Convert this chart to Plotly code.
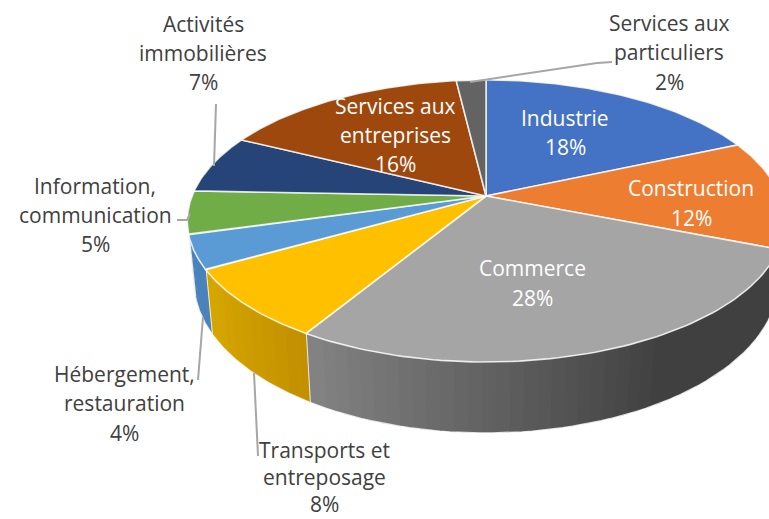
import numpy as np
import plotly.graph_objects as go

# ---- data ----
categories = ["Industrie", "Construction", "Commerce", "Transports et entreposage",
              "Hébergement, restauration", "Information, communication",
              "Activités immobilières", "Services aux entreprises", "Services aux particuliers"]
values = [18.45, 12.49, 27.76, 8.1, 3.85, 4.95, 6.7, 15.8, 1.9]
top_colors = ["#4472C4", "#ED7D31", "#A5A5A5", "#FFC000", "#5B9BD5", "#70AD47",
              "#264478", "#9E480E", "#636363"]

# side shading (start, end colour) of the slices whose wall is visible
side_shade = {2: ((0x82, 0x82, 0x82), (0x40, 0x40, 0x40)),
              3: ((0xD6, 0xA6, 0x00), (0xC2, 0x90, 0x00)),
              4: ((0x4A, 0x82, 0xBC), (0x4A, 0x82, 0xBC))}

# label text lines with placement (pixels): centre x, list of y, colour
label_place = [
    (565, [118, 147], "white"),
    (691, [188, 218], "white"),
    (532, [268, 298], "white"),
    (324, [450, 477, 504], "#404040"),
    (124, [374, 403, 433], "#404040"),
    (95, [186, 215, 244], "#404040"),
    (203, [24, 53, 82], "#404040"),
    (395, [106, 135, 164], "white"),
    (669, [23, 52, 82], "#404040"),
]
label_lines = [
    ["Industrie"], ["Construction"], ["Commerce"], ["Transports et", "entreposage"],
    ["Hébergement,", "restauration"], ["Information,", "communication"],
    ["Activités", "immobilières"], ["Services aux", "entreprises"],
    ["Services aux", "particuliers"],
]
leaders = [
    ([216, 214], [104, 166]),
    ([612, 597, 470], [62, 63, 82]),
    ([177, 187, 190], [220, 220, 214]),
    ([198, 203], [380, 317]),
    ([258, 254], [456, 373]),
]

# ---- tilted-disc projection ----
CX, CY, A, B, K = 486, 196, 294, 136.6, 0.177
DEPTH = 58.5


def top(theta):
    u, v = np.sin(theta), np.cos(theta)
    w = 1 + K * v
    return CX + A * u / w, CY - B * v / w


def bottom(theta):
    x, y = top(theta)
    w = 1 + K * np.cos(theta)
    return CX + (x - CX) * 0.978, y + DEPTH / w


fig = go.Figure()
EDGE = "rgba(255,255,255,0.8)"
cum = np.concatenate([[0], np.cumsum(values)]) / sum(values) * 2 * np.pi


def poly(x, y, fill, line=None, width=0.0):
    fig.add_trace(go.Scatter(x=x, y=y, mode="lines", fill="toself", fillcolor=fill,
                             line=dict(color=line or fill, width=width),
                             hoverinfo="skip", showlegend=False))


# walls
for i, (c0, c1) in side_shade.items():
    t0, t1 = cum[i], cum[i + 1]
    n = 44 if i == 2 else 10
    edges = np.linspace(t0, t1, n + 1)
    step = edges[1] - edges[0]
    for j in range(n):
        a, b = edges[j], edges[j + 1]
        arc = np.linspace(max(t0, a - step * 0.5), b, 5)  # overlap previous strip, hides seams
        xt, yt = top(arc)
        xb, yb = bottom(arc[::-1])
        f = 1 - j / (n - 1)                     # theta decreasing = left to right
        if i == 2:
            f = min(1.0, f * 1.65)              # reaches darkest tone before the right end
        rgb = [round(c0[k] + (c1[k] - c0[k]) * f) for k in range(3)]
        col = "rgb(%d,%d,%d)" % tuple(rgb)
        poly(np.r_[xt, xb], np.r_[yt, yb], col)
    # separator on the wall and outer rim
    xt, yt = top(np.array([t1]))
    xb, yb = bottom(np.array([t1]))
    arc = np.linspace(t0, t1, 60)
    xr, yr = bottom(arc)
    fig.add_trace(go.Scatter(x=xr, y=yr, mode="lines", line=dict(color=EDGE, width=1.5),
                             hoverinfo="skip", showlegend=False))
    fig.add_trace(go.Scatter(x=[xt[0], xb[0]], y=[yt[0], yb[0]], mode="lines",
                             line=dict(color="rgba(255,250,235,0.85)", width=2),
                             hoverinfo="skip", showlegend=False))

# top faces
for i, (name, col) in enumerate(zip(categories, top_colors)):
    arc = np.linspace(cum[i], cum[i + 1], 80)
    x, y = top(arc)
    poly(np.r_[CX, x, CX], np.r_[CY, y, CY], col, EDGE, 1.6)

# leader lines
for lx, ly in leaders:
    fig.add_trace(go.Scatter(x=lx, y=ly, mode="lines", line=dict(color="#A6A6A6", width=2),
                             hoverinfo="skip", showlegend=False))

# labels
ann = []
for lines, val, (lx, ys, col) in zip(label_lines, values, label_place):
    for txt, y in zip(lines + [f"{round(val)}%"], ys):
        ann.append(dict(x=lx, y=y, text=txt, showarrow=False, xanchor="center", yanchor="middle",
                        font=dict(family="Open Sans", size=21, color=col)))

fig.update_layout(
    width=769, height=519, margin=dict(l=0, r=0, t=0, b=0),
    paper_bgcolor="white", plot_bgcolor="white", annotations=ann, showlegend=False,
    xaxis=dict(range=[0, 769], visible=False, fixedrange=True),
    yaxis=dict(range=[519, 0], visible=False, fixedrange=True),
)
fig.write_html("out.html", config={"displayModeBar": False},
               post_script="document.body.style.margin='0';document.body.style.overflow='hidden';")
